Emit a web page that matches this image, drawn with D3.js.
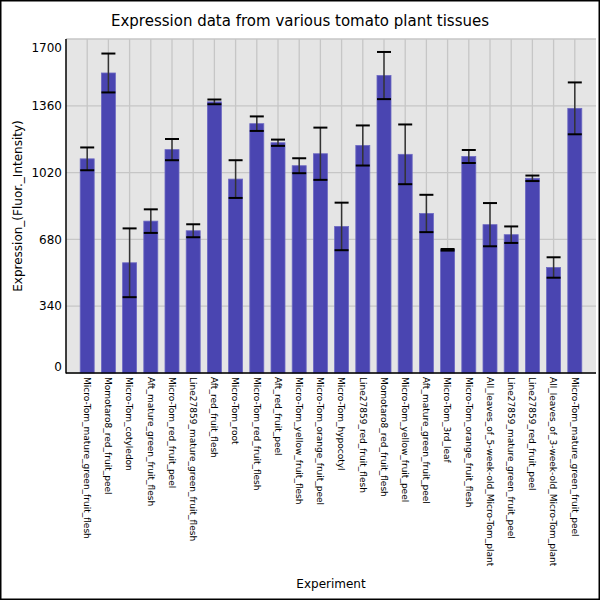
<!DOCTYPE html>
<html>
<head>
<meta charset="utf-8">
<script src="https://cdn.jsdelivr.net/npm/d3@7"></script>
<style>
  body { margin: 0; background: #fff; }
  text { font-family: "DejaVu Sans", sans-serif; fill: #000; }
</style>
</head>
<body>
<div class="chart-area"></div>
<script>
var experiments = [
  "Micro-Tom_mature_green_fruit_flesh",
  "Momotaro8_red_fruit_peel",
  "Micro-Tom_cotyledon",
  "Aft_mature_green_fruit_flesh",
  "Micro-Tom_red_fruit_peel",
  "Line27859_mature_green_fruit_flesh",
  "Aft_red_fruit_flesh",
  "Micro-Tom_root",
  "Micro-Tom_red_fruit_flesh",
  "Aft_red_fruit_peel",
  "Micro-Tom_yellow_fruit_flesh",
  "Micro-Tom_orange_fruit_peel",
  "Micro-Tom_hypocotyl",
  "Line27859_red_fruit_flesh",
  "Momotaro8_red_fruit_flesh",
  "Micro-Tom_yellow_fruit_peel",
  "Aft_mature_green_fruit_peel",
  "Micro-Tom_3rd_leaf",
  "Micro-Tom_orange_fruit_flesh",
  "All_leaves_of_5-week-old_Micro-Tom_plant",
  "Line27859_mature_green_fruit_peel",
  "Line27859_red_fruit_peel",
  "All_leaves_of_3-week-old_Micro-Tom_plant",
  "Micro-Tom_mature_green_fruit_peel"
]

var expression = [ 1090, 1527, 561, 773, 1137, 724, 1380, 987, 1269, 1172, 1055, 1116,
                   746, 1158, 1514, 1113, 812, 627, 1102, 755, 704, 991, 537, 1347 ],
    errors     = [ 58, 99, 175, 60, 54, 33, 12, 96, 37, 16, 38, 133,
                   121, 102, 120, 152, 95, 4, 33, 110, 42, 14, 52, 132 ],
    yTicks     = [ 0, 340, 680, 1020, 1360, 1700 ]

var width = 600,
    height = 600,
    plotLeft = 66,
    plotRight = 596,
    plotTop = 39,
    plotBottom = 373,
    svg = d3.select(".chart-area")
            .append("svg")
            .attr("width", width)
            .attr("height", height);

var x = d3.scaleLinear().domain([-1, experiments.length]).range([plotLeft, plotRight]),
    y = d3.scaleLinear().domain([0, 1700]).range([plotBottom, plotTop]),
    barWidth = 14;

// frame round the whole picture
svg.append("rect")
   .attr("x", 0).attr("y", 0)
   .attr("width", width).attr("height", height)
   .attr("fill", "#fff")
   .attr("stroke", "#000")
   .attr("stroke-width", 3);

svg.append("rect")
   .attr("x", plotLeft).attr("y", plotTop)
   .attr("width", plotRight - plotLeft).attr("height", plotBottom - plotTop)
   .attr("fill", "#e5e5e5");

// grid
svg.selectAll(".hgrid")
   .data(yTicks)
   .enter()
   .append("line")
   .attr("class", "hgrid")
   .attr("x1", plotLeft).attr("x2", plotRight)
   .attr("y1", function(d) { return y(d) })
   .attr("y2", function(d) { return y(d) })
   .attr("stroke", "#c6c6c6")
   .attr("stroke-width", 1.3);

svg.selectAll(".vgrid")
   .data(experiments)
   .enter()
   .append("line")
   .attr("class", "vgrid")
   .attr("x1", function(d, i) { return x(i) })
   .attr("x2", function(d, i) { return x(i) })
   .attr("y1", plotTop).attr("y2", plotBottom)
   .attr("stroke", "#c6c6c6")
   .attr("stroke-width", 1.3);

svg.selectAll(".bar")
   .data(expression)
   .enter()
   .append("rect")
   .attr("class", "bar")
   .attr("x", function(d, i) { return x(i) - barWidth / 2 })
   .attr("y", function(d) { return y(d) })
   .attr("width", barWidth)
   .attr("height", function(d) { return plotBottom - y(d) })
   .attr("fill", "#4a45b1")
   .attr("stroke", "#6d69c2")
   .attr("stroke-width", 0.8);

// error bars
var err = svg.selectAll(".err")
   .data(expression)
   .enter()
   .append("g")
   .attr("class", "err");

err.append("line")
   .attr("x1", function(d, i) { return x(i) })
   .attr("x2", function(d, i) { return x(i) })
   .attr("y1", function(d, i) { return y(d + errors[i]) })
   .attr("y2", function(d, i) { return y(d - errors[i]) })
   .attr("stroke", "#333")
   .attr("stroke-width", 1.5);

err.append("line")
   .attr("x1", function(d, i) { return x(i) - barWidth / 2 })
   .attr("x2", function(d, i) { return x(i) + barWidth / 2 })
   .attr("y1", function(d, i) { return y(d + errors[i]) })
   .attr("y2", function(d, i) { return y(d + errors[i]) })
   .attr("stroke", "#000")
   .attr("stroke-width", 2);

err.append("line")
   .attr("x1", function(d, i) { return x(i) - barWidth / 2 })
   .attr("x2", function(d, i) { return x(i) + barWidth / 2 })
   .attr("y1", function(d, i) { return y(d - errors[i]) })
   .attr("y2", function(d, i) { return y(d - errors[i]) })
   .attr("stroke", "#000")
   .attr("stroke-width", 2);

// axes
svg.append("line")
   .attr("x1", plotLeft).attr("x2", plotLeft)
   .attr("y1", plotTop).attr("y2", plotBottom + 0.5)
   .attr("stroke", "#000").attr("stroke-width", 1.5);

svg.append("line")
   .attr("x1", plotLeft).attr("x2", plotRight)
   .attr("y1", plotBottom).attr("y2", plotBottom)
   .attr("stroke", "#000").attr("stroke-width", 1.5);

// end labels are pulled inside the plot edges
svg.selectAll(".ytick")
   .data(yTicks)
   .enter()
   .append("text")
   .attr("class", "ytick")
   .text(function(d) { return d })
   .attr("x", 62)
   .attr("y", function(d) { return Math.max(plotTop + 9, Math.min(plotBottom - 6, y(d))) })
   .attr("dy", "0.35em")
   .attr("text-anchor", "end")
   .style("font-size", "12px");

svg.selectAll(".xtick")
   .data(experiments)
   .enter()
   .append("text")
   .attr("class", "xtick")
   .text(function(d) { return d })
   .attr("transform", function(d, i) { return "translate(" + x(i) + ",377) rotate(90)" })
   .attr("dy", "0.35em")
   .style("font-size", "9px");

svg.append("text")
   .text("Expression data from various tomato plant tissues")
   .attr("x", 300).attr("y", 26)
   .attr("text-anchor", "middle")
   .style("font-size", "15px");

svg.append("text")
   .text("Expression_(Fluor._Intensity)")
   .attr("transform", "translate(22," + ((plotTop + plotBottom) / 2) + ") rotate(-90)")
   .attr("text-anchor", "middle")
   .style("font-size", "12px");

svg.append("text")
   .text("Experiment")
   .attr("x", (plotLeft + plotRight) / 2).attr("y", 588)
   .attr("text-anchor", "middle")
   .style("font-size", "12px");
</script>
</body>
</html>
